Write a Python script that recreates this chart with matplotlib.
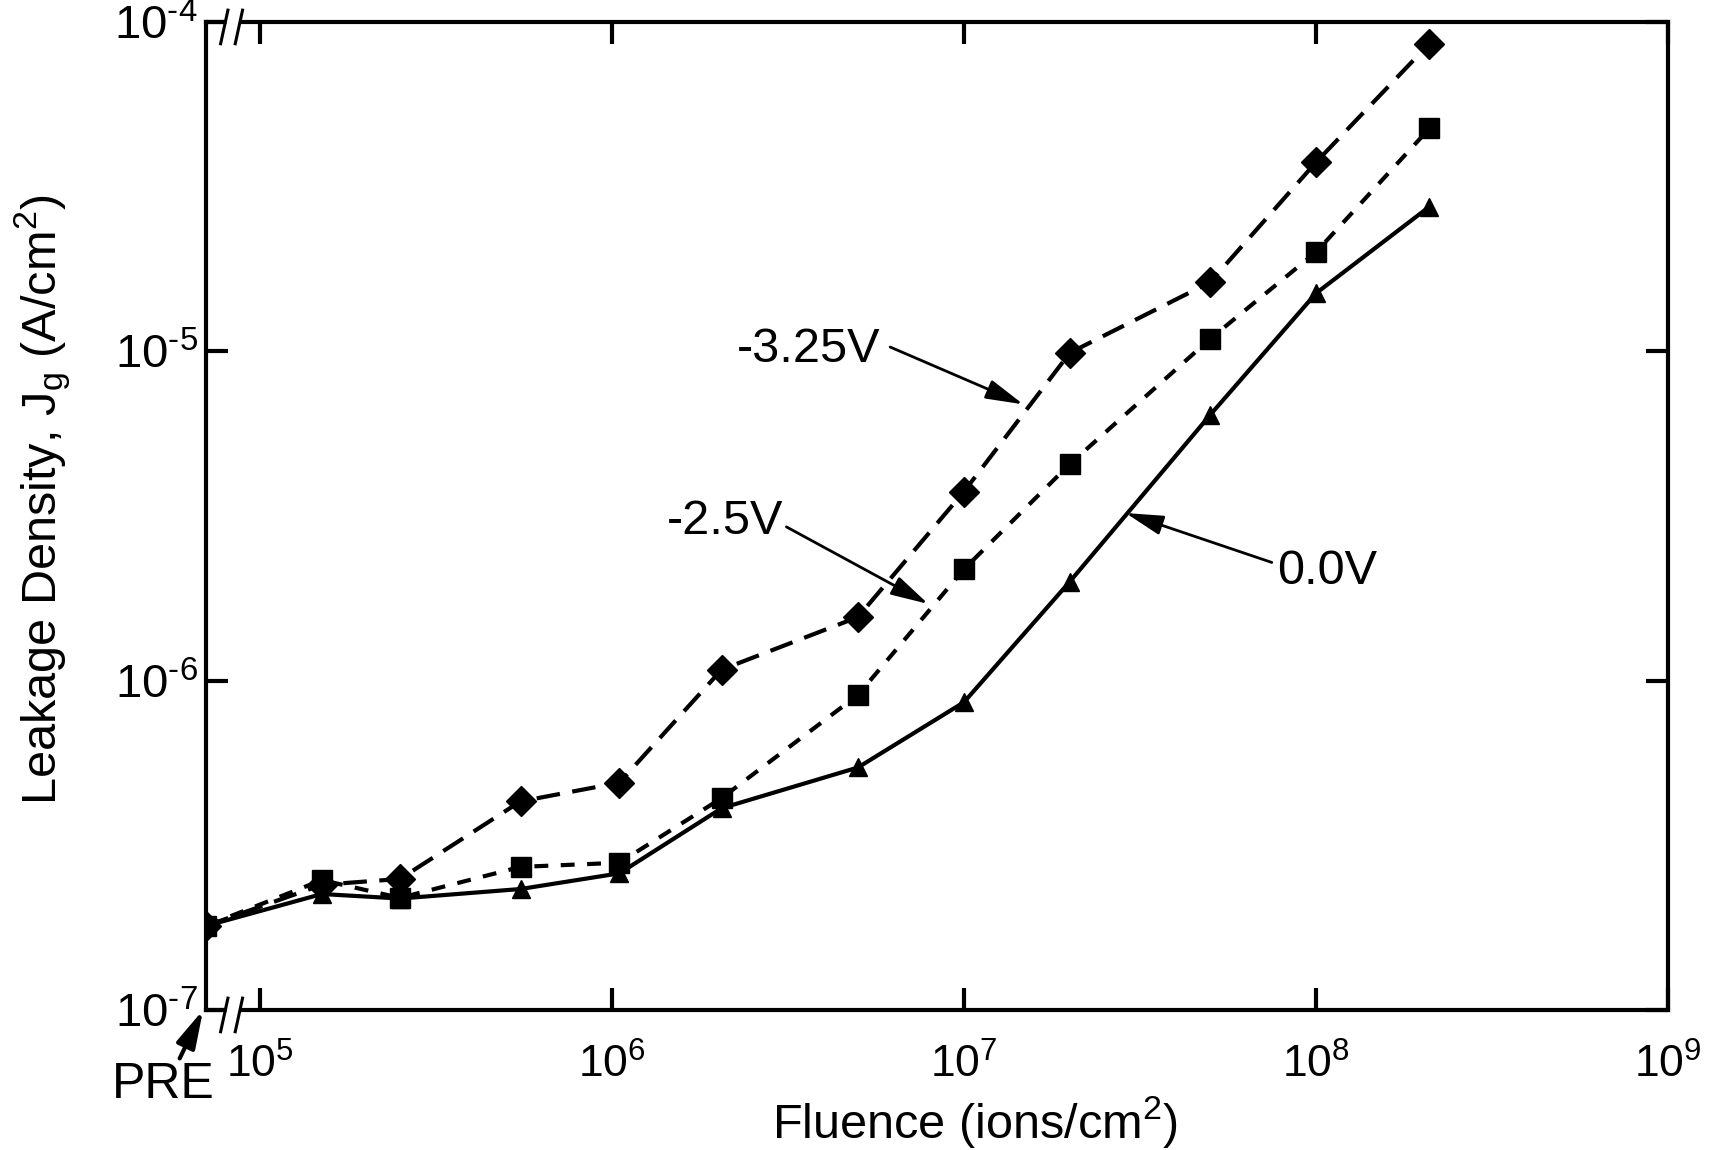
import numpy as np
import matplotlib
matplotlib.use("Agg")
import matplotlib.pyplot as plt
from matplotlib.ticker import FixedLocator, FixedFormatter, NullLocator

# ---- data ----
PRE = 7.03e4  # "PRE" measurement drawn at the left axis edge
fluence = [PRE, 1.5e5, 2.5e5, 5.5e5, 1.05e6, 2.05e6, 5.0e6, 1.0e7, 2.0e7, 5.0e7, 1.0e8, 2.1e8]
jg_325 = [1.8e-7, 2.4e-7, 2.5e-7, 4.3e-7, 4.9e-7, 1.08e-6, 1.56e-6, 3.75e-6, 9.9e-6, 1.62e-5, 3.75e-5, 8.6e-5]
jg_250 = [1.8e-7, 2.48e-7, 2.19e-7, 2.72e-7, 2.8e-7, 4.4e-7, 9.05e-7, 2.18e-6, 4.55e-6, 1.09e-5, 2.0e-5, 4.75e-5]
jg_000 = [1.8e-7, 2.25e-7, 2.18e-7, 2.33e-7, 2.6e-7, 4.1e-7, 5.45e-7, 8.6e-7, 2.0e-6, 6.4e-6, 1.5e-5, 2.75e-5]
series_labels = ["-3.25V", "-2.5V", "0.0V"]
xticks = [1e5, 1e6, 1e7, 1e8, 1e9]
xticklabels = [r"$10^{5}$", r"$10^{6}$", r"$10^{7}$", r"$10^{8}$", r"$10^{9}$"]
yticks = [1e-7, 1e-6, 1e-5, 1e-4]
yticklabels = [r"$10^{\text{-}7}$", r"$10^{\text{-}6}$", r"$10^{\text{-}5}$", r"$10^{\text{-}4}$"]

plt.rcParams['font.family'] = ['Liberation Sans', 'DejaVu Sans']
plt.rcParams['mathtext.fontset'] = 'custom'
plt.rcParams['mathtext.rm'] = 'Liberation Sans'
plt.rcParams['mathtext.it'] = 'Liberation Sans:italic'
plt.rcParams['mathtext.bf'] = 'Liberation Sans:bold'
plt.rcParams['lines.scale_dashes'] = False

fig = plt.figure(figsize=(17.12, 11.5), dpi=100)
ax = fig.add_axes([206/1712, 1-1010/1150, (1668-206)/1712, (1010-22)/1150])
ax.set_xscale('log')
ax.set_yscale('log')
ax.set_xlim(PRE, 1e9)
ax.set_ylim(1e-7, 1e-4)

ax.plot(fluence, jg_325, color='black', lw=3, ls=(0, (17, 9)), marker='D', ms=15, zorder=3)
ax.plot(fluence, jg_250, color='black', lw=3, ls=(0, (10, 9)), marker='s', ms=14, zorder=3)
ax.plot(fluence, jg_000, color='black', lw=3, ls='-', marker='^', ms=13, zorder=3)

for s in ax.spines.values():
    s.set_linewidth(3)

ax.xaxis.set_major_locator(FixedLocator(xticks))
ax.xaxis.set_major_formatter(FixedFormatter(xticklabels))
ax.xaxis.set_minor_locator(NullLocator())
ax.yaxis.set_major_locator(FixedLocator(yticks))
ax.yaxis.set_major_formatter(FixedFormatter(yticklabels))
ax.yaxis.set_minor_locator(NullLocator())
ax.tick_params(axis='both', which='major', direction='in', length=16, width=3,
               top=True, right=True)
ax.tick_params(axis='x', labelsize=32, pad=24)
ax.tick_params(axis='y', labelsize=34, pad=6)

ax.set_xlabel(r"Fluence (ions/cm$^{2}$)", fontsize=35)
ax.xaxis.set_label_coords(0.526, -0.085, transform=ax.transAxes)
ax.xaxis.label.set_va('top')
ax.set_ylabel(r"Leakage Density, J$_{\mathrm{g}}$ (A/cm$^{2}$)", fontsize=35)
ax.yaxis.set_label_coords(-0.091, 0.516, transform=ax.transAxes)

# axis break marks
for yb in (0.0, 1.0):
    ax.plot([0.0135, 0.0225], [yb, yb], transform=ax.transAxes, color='white',
            lw=5, clip_on=False, zorder=5, solid_capstyle='butt')
    for xb in (0.0125, 0.0225):
        ax.plot([xb - 0.0025, xb + 0.0025], [yb - 0.022, yb + 0.012], transform=ax.transAxes,
                color='black', lw=2.2, clip_on=False, zorder=6)

arrow = dict(arrowstyle='-|>,head_length=2.3,head_width=0.6', color='black', lw=2,
             shrinkA=0, shrinkB=0)
ax.annotate("", xy=(0.559, 0.613), xytext=(0.468, 0.671), xycoords='axes fraction',
            arrowprops=arrow)
ax.text(0.412, 0.669, series_labels[0], transform=ax.transAxes, fontsize=35,
        ha='center', va='center')
ax.annotate("", xy=(0.494, 0.411), xytext=(0.397, 0.489), xycoords='axes fraction',
            arrowprops=arrow)
ax.text(0.355, 0.494, series_labels[1], transform=ax.transAxes, fontsize=35,
        ha='center', va='center')
ax.annotate("", xy=(0.629, 0.503), xytext=(0.729, 0.453), xycoords='axes fraction',
            arrowprops=arrow)
ax.text(0.767, 0.444, series_labels[2], transform=ax.transAxes, fontsize=35,
        ha='center', va='center')
ax.annotate("", xy=(-0.002, 0.0), xytext=(-0.018, -0.049), xycoords='axes fraction',
            arrowprops=dict(arrow, lw=3), annotation_clip=False)
ax.text(-0.029, -0.076, "PRE", transform=ax.transAxes, fontsize=36,
        ha='center', va='center')

fig.savefig("out.png", dpi=100)
